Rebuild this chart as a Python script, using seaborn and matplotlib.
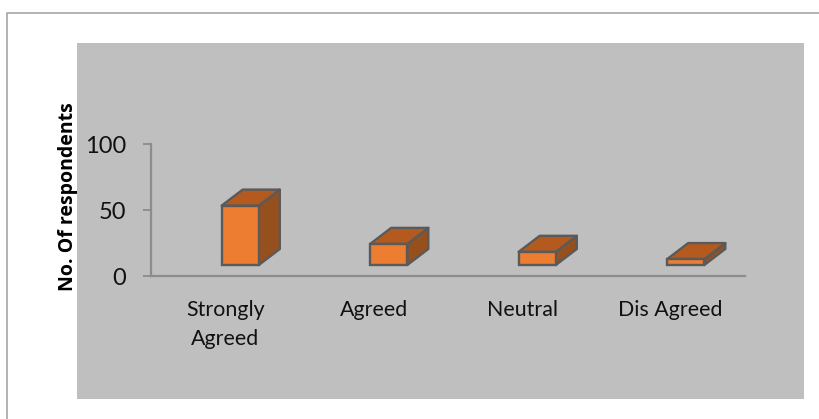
import matplotlib
matplotlib.use("Agg")
import matplotlib.pyplot as plt
from matplotlib.patches import Polygon, Rectangle
from matplotlib.lines import Line2D
import pandas as pd
import seaborn as sns

# Values
categories = ["Strongly\nAgreed", "Agreed", "Neutral", "Dis Agreed"]
respondents = [45, 16, 10, 4.5]
y_ticks = [0, 50, 100]

W, H = 820, 419

sns.set_theme(style="white")
plt.rcParams["font.family"] = ["Lato", "DejaVu Sans"]

fig = plt.figure(figsize=(W / 100, H / 100), dpi=100, facecolor="white")

# grey plot background and the thin frame around the chart
fig.patches.append(Rectangle((77 / W, 1 - 399 / H), (804 - 77) / W, (399 - 43) / H,
                             transform=fig.transFigure, facecolor="#bfbfbf", edgecolor="none", zorder=-2))
fig.lines.append(Line2D([7 / W, 7 / W, 1], [0, 1 - 13.5 / H, 1 - 13.5 / H],
                        transform=fig.transFigure, color="#a6a6a6", lw=1.2, zorder=-2))

ax = fig.add_axes([151 / W, 1 - 276 / H, (745 - 151) / W, (276 - 144) / H])
ax.patch.set_alpha(0)

df = pd.DataFrame({"category": categories, "respondents": respondents})

# the 3-D floor lifts the bars a little above the axis line
floor = 11 / 1.32
sns.barplot(data=df, x="category", y="respondents", ax=ax, color="#ed7d31", saturation=1,
            width=0.25, bottom=floor, edgecolor="#5a5a5a", linewidth=1.7, zorder=3)

ax.set_xlim(-0.5, 3.5)
ax.set_ylim(0, 100)
ax.set_yticks(y_ticks)
ax.set_xlabel("")
ax.set_ylabel("No. Of respondents", fontsize=14, fontweight="bold", color="black", family="Open Sans")
ax.yaxis.set_label_coords(-73 / (745 - 151), 0.6)
ax.tick_params(axis="y", length=5.8, width=1.3, color="#8c8c8c", labelsize=17, labelcolor="#111111", left=True, pad=12)
ax.tick_params(axis="x", length=0, labelsize=15.4, labelcolor="#111111", pad=17.5)
for label in ax.get_xticklabels():
    label.set_linespacing(1.55)

for s in ["top", "right"]:
    ax.spines[s].set_visible(False)
for s in ["left", "bottom"]:
    ax.spines[s].set_color("#8c8c8c")
    ax.spines[s].set_linewidth(1.6)

# extruded side and top faces for each bar
dx = 21 / 148.5
dy = 16 / 1.32
shift = 15 / 148.5
for bar in ax.patches[:len(categories)]:
    bar.set_x(bar.get_x() + shift)
    x0 = bar.get_x()
    x1 = x0 + bar.get_width()
    y0 = bar.get_y()
    y1 = y0 + bar.get_height()
    ax.add_patch(Polygon([(x1, y0), (x1 + dx, y0 + dy), (x1 + dx, y1 + dy), (x1, y1)],
                         facecolor="#96501e", edgecolor="#5a5a5a", lw=1.7, joinstyle="round", zorder=2))
    ax.add_patch(Polygon([(x0, y1), (x0 + dx, y1 + dy), (x1 + dx, y1 + dy), (x1, y1)],
                         facecolor="#b45a1e", edgecolor="#5a5a5a", lw=1.7, joinstyle="round", zorder=2))

fig.savefig("out.png", dpi=100)
